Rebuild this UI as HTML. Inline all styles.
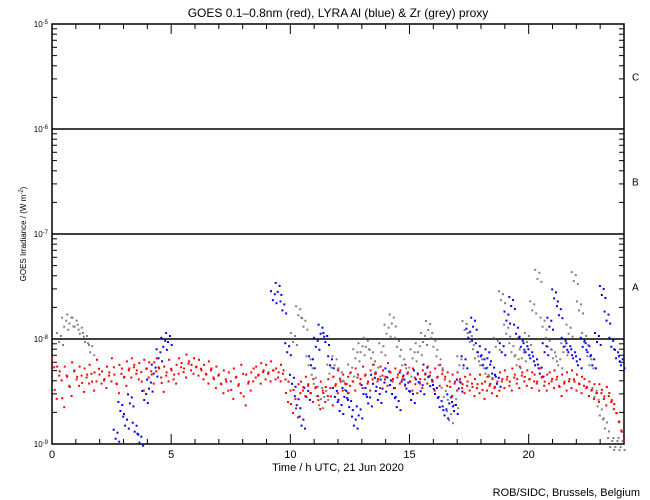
<!DOCTYPE html>
<html><head><meta charset="utf-8"><style>
body{margin:0;background:#fff}
svg{display:block;font-family:"Liberation Sans",sans-serif}
</style></head><body>
<svg id="c" width="650" height="500" viewBox="0 0 650 500">
<text x="338" y="17" font-size="12" text-anchor="middle">GOES 0.1–0.8nm (red), LYRA Al (blue) &amp; Zr (grey) proxy</text>
<text x="338" y="471" font-size="11" text-anchor="middle">Time / h UTC, 21 Jun 2020</text>
<text x="640" y="496" font-size="11" text-anchor="end">ROB/SIDC, Brussels, Belgium</text>
<text transform="translate(26,234) rotate(-90)" font-size="8" text-anchor="middle">GOES Irradiance / (W m<tspan dy="-3" font-size="6">-2</tspan><tspan dy="3">)</tspan></text>
<g id="grid"></g>
<g id="axes"></g>
<g id="grey"></g>
<g id="blue"></g>
<g id="red"></g>
</svg>
<script>
// values in units of 1e-9 W m^-2, evenly spaced over 24 h
const redValues=[6,3,5,4.5,2.5,5,4,3.2,5.5,4.6, 4,5,3.5,4.8,4.2,5.2,3.6,4.4,5.8,4.2, 4.5,3.8,5,4.4,6,4.2,3.4,5.2,4.8,4, 5.6,4.8,6,5.2,4.6,5.4,3.6,5.8,4.8,5.5, 4.2,5.5,6,4.8,3.5,5,4.4,5.8,4.6,4.2, 5.2,6,5.4,4.8,6.5,5.6,5.2,6,5,5.8, 4.6,5.2,4.2,5.6,4.8,3.8,5,4.2,3.4,4.6, 3.6,4.4,3,4.8,4,3.4,5.2,2.6,4.2,3.6, 4.4,4.8,5,4.2,5.4,4.6,5.2,4.4,5.6,4.6, 4.8,4.4,5.2,4.6,2.8,3.6,2.2,3,2,3.4, 3.6,3.2,4,3.4,2.8,3.8,3.2,2.4,3.6,2.8, 3.2,3.8,2.6,4,3.4,4.6,3.6,4.2,3.4,4, 4.4,3.6,4.8,4.2,3.8,5,4.2,3.6,4.6,5.2, 4.4,3.8,5,4.6,4,5.4,4.4,3.8,4.8,4.2, 4.6,4,5.2,4.4,3.6,4.8,3.4,4.2,3.8,4.6, 4.2,5,4.4,3.6,4.8,4,5.2,4.6,4,4.4, 3.2,4.2,3.6,4.4,3.8,3.4,4,3.6,4.2,3.2, 3.8,3.4,4.2,3,3.6,4,3.4,3.8,3.2,3.6, 4.4,3.8,4.6,4,3.6,4.8,4.2,3.8,5,4.4, 4,4.6,3.8,4.4,4.2,3.6,4.8,4,3.6,4.2, 4.4,3.8,4.6,4,3.2,4.2,3.6,4.4,3.8,4.6, 3.6,4.2,3.4,4,3.8,3.2,3.6,3,3.4,2.8, 3.4,3,2.6,3.2,2.8,2.4,2.2,1.8,1.5,1.2];
const blueValues=[null,null,null,null,null,null,null,null,null,null, null,null,null,1.2,2.2,1.6,2.6,1.4,1.1,2.8, 3.6,5,7,9,10,null,null,null,null,null, null,null,null,null,null,null,null,null,null,null, null,null,null,null,null,null,25,30,20,8, 4,2.5,1.6,3,6,9,12,10,6,3, 2.2,3,2.4,1.6,2,3.2,2.6,4,2.8,3.6, 4.6,3.2,2.4,4.2,3.6,2.8,4.4,3.4,5,3.8, 3.2,2.4,2,2.6,2.2,3.6,6,11,14,8, 6,7,5,4,8,16,22,12,9,8, 7,6,5,8,14,26,18,9,8,7, 6,9,8,6,10,28,16,9,7,6];
const greyValues=[null,10,14,15,14,12,10,8,null,null, null,null,null,null,null,null,null,null,null,null, null,null,null,null,null,null,null,null,null,null, null,null,null,null,null,null,null,null,null,null, null,null,null,null,null,null,10,18,14,6, 4,2.5,3,5,6,4.5,3.5,5,7,8, 9,7,5,8,12,15,9,6,5,7, 8,10,13,9,6,3,1.8,2.5,6,13, 10,7,6,5,4,9,25,12,8,6, 7,10,20,40,14,9,7,6,8,12, 38,20,10,6,3,2,1.5,1,1,1];
const xTicks=[0,5,10,15,20];
const yDecades=[-9,-8,-7,-6,-5];
const classLabels=["A","B","C"];

const NS="http://www.w3.org/2000/svg";
const X0=52,X1=624,Y0=444,Y1=24;
const xs=h=>X0+(X1-X0)*h/24;
const ys=v=>Y0-(Y0-Y1)*(Math.log10(v*1e-9)+9)/4;
function mk(tag,attrs,parent){const e=document.createElementNS(NS,tag);for(const k in attrs)e.setAttribute(k,attrs[k]);parent.appendChild(e);return e;}
const axes=document.getElementById('axes');
const grid=document.getElementById('grid');
let l=mk('rect',{x:X0,y:Y1,width:X1-X0,height:Y0-Y1,fill:'none',stroke:'#000','stroke-width':1.5},axes);


for(let d=1;d<=3;d++){const y=ys(Math.pow(10,d));
 const g=mk('line',{x1:X0,x2:X1,y1:y,y2:y,stroke:'#000','stroke-width':1.5},grid);
 
 }
classLabels.forEach((c,i)=>{const y=(ys(Math.pow(10,i+1))+ys(Math.pow(10,i+2)))/2;
 const t=mk('text',{x:632,y:y+4,'font-size':10},axes);t.textContent=c;
 
 });
for(let h=0;h<=24;h++){const x=xs(h),len=h%5===0?10:5;
 mk('line',{x1:x,x2:x,y1:Y0,y2:Y0-len,stroke:'#000'},axes);
 mk('line',{x1:x,x2:x,y1:Y1,y2:Y1+len,stroke:'#000'},axes);}
xTicks.forEach(h=>{const t=mk('text',{x:xs(h),y:458,'font-size':11,'text-anchor':'middle'},axes);t.textContent=h;
 
 });
for(let d=0;d<4;d++)for(let m=1;m<=9;m++){const y=ys(m*Math.pow(10,d)),len=m===1?10:5;
 mk('line',{x1:X0,x2:X0+len,y1:y,y2:y,stroke:'#000'},axes);
 mk('line',{x1:X1,x2:X1-len,y1:y,y2:y,stroke:'#000'},axes);}
yDecades.forEach(e=>{const y=ys(Math.pow(10,e+9));
 const t=mk('text',{x:48,y:y+3,'font-size':8,'text-anchor':'end'},axes);
 t.innerHTML='10<tspan dy="-3" font-size="6">'+e+'</tspan>';
 
 });
const offs4=[[-0.35,-6],[-0.1,3],[0.15,-3],[0.38,6]];
const offs2=[[-0.25,-4],[0.25,5]];
function plot(id,vals,color,offs){const g=document.getElementById(id);
 const step=24/vals.length, w=(X1-X0)*step/24;
 vals.forEach((v,i)=>{if(v==null)return;
  const x=xs((i+0.5)*step),y=ys(v);
  offs.forEach(o=>{
   const r=mk('rect',{x:(x+o[0]*w*1.6-1).toFixed(1),y:(y+o[1]-1).toFixed(1),width:2,height:2,fill:color},g);
   
   });
 });}
plot('grey',greyValues,'#808080',offs4);
plot('blue',blueValues,'#0000ff',offs4);
plot('red',redValues,'#ff0000',offs2);
</script>
</body></html>
